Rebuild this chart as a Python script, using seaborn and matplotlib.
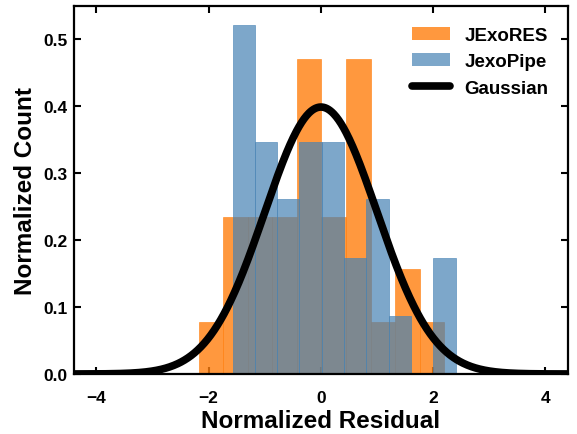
import numpy as np
import pandas as pd
import matplotlib
matplotlib.use("Agg")
import matplotlib.pyplot as plt
import seaborn as sns
from matplotlib.patches import Patch
from matplotlib.lines import Line2D

# Data
jexores_edges = [-2.18, -1.742, -1.304, -0.866, -0.428, 0.01, 0.448, 0.886, 1.324, 1.762, 2.20]
jexores_heights = [0.078, 0.234, 0.234, 0.234, 0.471, 0.234, 0.471, 0.078, 0.157, 0.078]
jexopipe_edges = [-1.575, -1.1775, -0.78, -0.3825, 0.015, 0.4125, 0.81, 1.2075, 1.605, 2.0025, 2.40]
jexopipe_heights = [0.522, 0.347, 0.261, 0.347, 0.347, 0.174, 0.261, 0.087, 0.0, 0.174]

sns.set_style("ticks")
plt.rcParams['font.family'] = ['Liberation Sans', 'DejaVu Sans']
plt.rcParams['font.weight'] = 'bold'
for k in ['text.color', 'axes.labelcolor', 'xtick.color', 'ytick.color', 'axes.edgecolor']:
    plt.rcParams[k] = 'black'

fig = plt.figure(figsize=(5.77, 4.35), dpi=100)
ax = fig.add_axes([0.1282, 0.138, 0.856, 0.846])

er = np.array(jexores_edges)
ep = np.array(jexopipe_edges)
df_r = pd.DataFrame({"x": (er[:-1] + er[1:]) / 2, "w": jexores_heights})
df_p = pd.DataFrame({"x": (ep[:-1] + ep[1:]) / 2, "w": jexopipe_heights})

sns.histplot(data=df_r, x="x", weights="w", bins=list(jexores_edges), stat="count",
             color="tab:orange", alpha=0.8, edgecolor="tab:orange", linewidth=0.4, ax=ax)
sns.histplot(data=df_p, x="x", weights="w", bins=list(jexopipe_edges), stat="count",
             color="steelblue", alpha=0.7, edgecolor="steelblue", linewidth=0.4, ax=ax)

xg = np.linspace(-4.4, 4.4, 600)
yg = np.exp(-xg**2 / 2) / np.sqrt(2 * np.pi)
sns.lineplot(x=xg, y=yg, color="black", linewidth=5.5, ax=ax)

ax.set_xlim(-4.4, 4.4)
ax.set_ylim(0, 0.55)
ax.set_xticks([-4, -2, 0, 2, 4])
ax.set_xticklabels(["\u22124", "\u22122", "0", "2", "4"])
ax.set_yticks([0.0, 0.1, 0.2, 0.3, 0.4, 0.5])
ax.set_yticklabels(["0.0", "0.1", "0.2", "0.3", "0.4", "0.5"])
ax.tick_params(direction="in", top=True, right=True, length=5, width=1.5,
               labelsize=12.5)
ax.tick_params(axis="x", pad=11.5)
ax.tick_params(axis="y", pad=4.5)
for lab in ax.get_xticklabels() + ax.get_yticklabels():
    lab.set_fontweight("bold")
for s in ax.spines.values():
    s.set_linewidth(1.6)
ax.set_xlabel("Normalized Residual", fontsize=17.5, fontweight="bold", labelpad=3)
ax.set_ylabel("Normalized Count", fontsize=17.5, fontweight="bold", labelpad=5)

handles = [Patch(facecolor="tab:orange", alpha=0.8, edgecolor="none"),
           Patch(facecolor="steelblue", alpha=0.7, edgecolor="none"),
           Line2D([0], [0], color="black", lw=5.5)]
ax.legend(handles, ["JExoRES", "JexoPipe", "Gaussian"], loc="upper right",
          frameon=False, prop={"weight": "bold", "size": 13.5},
          bbox_to_anchor=(0.995, 0.99))

fig.savefig("out.png", dpi=100)
